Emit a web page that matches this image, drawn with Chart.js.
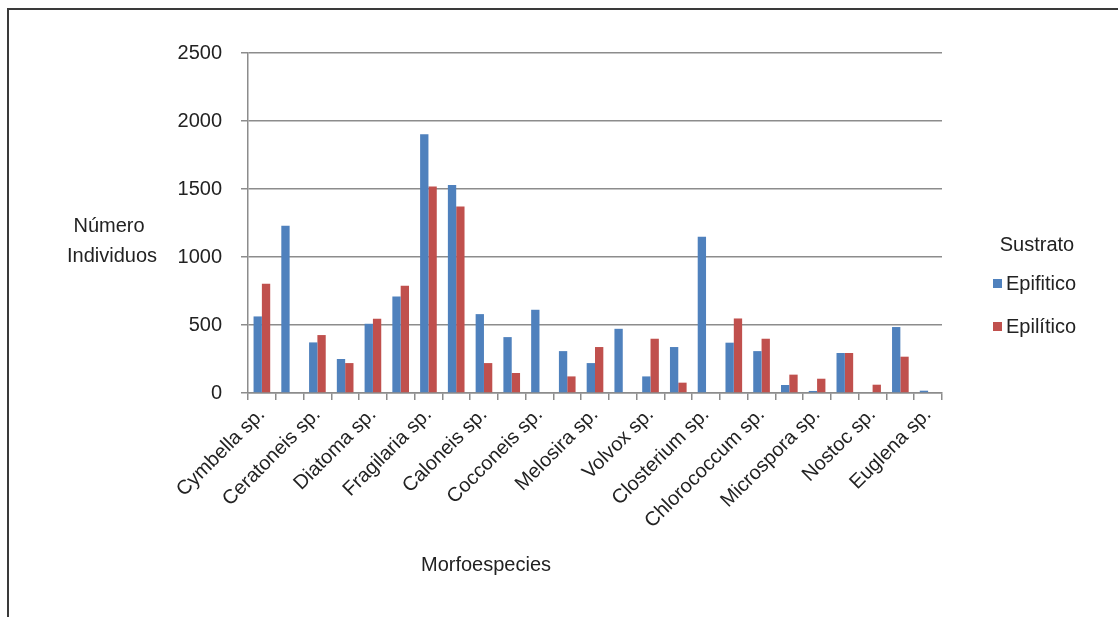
<!DOCTYPE html>
<html>
<head>
<meta charset="utf-8">
<style>
    html, body { margin: 0; padding: 0; background: #fff; }
    #wrap { width: 1118px; height: 617px; position: relative; }
</style>
<script src="https://cdn.jsdelivr.net/npm/chart.js@4.4.0/dist/chart.umd.min.js"></script>
</head>
<body>
<div id="wrap"><canvas id="barChart" width="1118" height="617"></canvas></div>
<script>
// Only every other species name is printed on the original axis
const categories = [
    'Cymbella sp.', '', 'Ceratoneis sp.', '', 'Diatoma sp.', '', 'Fragilaria sp.', '',
    'Caloneis sp.', '', 'Cocconeis sp.', '', 'Melosira sp.', '', 'Volvox sp.', '',
    'Closterium sp.', '', 'Chlorococcum sp.', '', 'Microspora sp.', '', 'Nostoc sp.', '',
    'Euglena sp.'
];
const epifitico = [563, 1229, 372, 250, 509, 710, 1902, 1530, 580, 411, 612, 308, 220,
    472, 122, 338, 1148, 370, 308, 59, 15, 294, 0, 485, 17];
const epilitico = [803, 0, 426, 220, 546, 788, 1518, 1371, 220, 147, 0, 122, 338,
    0, 399, 76, 0, 548, 399, 135, 105, 294, 61, 267, 0];
const yTicks = [0, 500, 1000, 1500, 2000, 2500];

const FONT = '"Liberation Sans", Arial, sans-serif';
const BLUE = '#4f81bd';
const RED = '#c0504d';

// frame, horizontal titles and legend
const extras = {
    id: 'extras',
    beforeDraw(chart) {
        const ctx = chart.ctx;
        ctx.save();
        ctx.strokeStyle = '#3a3a3a';
        ctx.lineWidth = 2;
        ctx.beginPath();
        ctx.moveTo(8, 617);
        ctx.lineTo(8, 9);
        ctx.lineTo(1118, 9);
        ctx.stroke();
        ctx.restore();
    },
    afterDraw(chart) {
        const ctx = chart.ctx;
        ctx.save();
        ctx.fillStyle = '#222';
        ctx.font = '20px ' + FONT;
        ctx.textAlign = 'center';
        ctx.textBaseline = 'middle';
        ctx.fillText('Número', 109, 226);
        ctx.fillText('Individuos', 112, 256);
        ctx.fillText('Morfoespecies', 486, 565);

        ctx.fillText('Sustrato', 1037, 245);
        ctx.textAlign = 'left';
        const items = [['Epifitico', BLUE, 284], ['Epilítico', RED, 327]];
        items.forEach(([txt, col, y]) => {
            ctx.fillStyle = col;
            ctx.fillRect(993, y - 5, 9, 9);
            ctx.fillStyle = '#222';
            ctx.fillText(txt, 1006, y);
        });
        ctx.restore();
    }
};

new Chart(document.getElementById('barChart'), {
    type: 'bar',
    data: {
        labels: categories,
        datasets: [{
                label: 'Epifitico',
                data: epifitico,
                backgroundColor: BLUE,
                categoryPercentage: 0.6,
                barPercentage: 1.0
            }, {
                label: 'Epilítico',
                data: epilitico,
                backgroundColor: RED,
                categoryPercentage: 0.6,
                barPercentage: 1.0
            }]
    },
    options: {
        responsive: false,
        animation: false,
        layout: {padding: {left: 158, right: 176, top: 53, bottom: 40}},
        scales: {
            x: {
                afterFit: s => { s.height = 184; },
                grid: {display: true, drawOnChartArea: false, drawTicks: true, tickLength: 7, color: '#8c8c8c', lineWidth: 1.5, offset: true},
                border: {color: '#8c8c8c', width: 1.5},
                ticks: {
                    autoSkip: false,
                    maxRotation: 45,
                    minRotation: 45,
                    color: '#222',
                    padding: 3,
                    font: {family: FONT, size: 20}
                }
            },
            y: {
                min: 0,
                max: 2500,
                afterFit: s => { s.width = 90; },
                afterBuildTicks: s => { s.ticks = yTicks.map(v => ({value: v})); },
                grid: {color: '#8c8c8c', lineWidth: 1.5, tickLength: 7},
                border: {color: '#8c8c8c', width: 1.5},
                ticks: {
                    color: '#222',
                    padding: 19,
                    font: {family: FONT, size: 20},
                    callback: v => String(v)
                }
            }
        },
        plugins: {
            legend: {display: false},
            tooltip: {enabled: false}
        }
    },
    plugins: [extras]
});
</script>
</body>
</html>
